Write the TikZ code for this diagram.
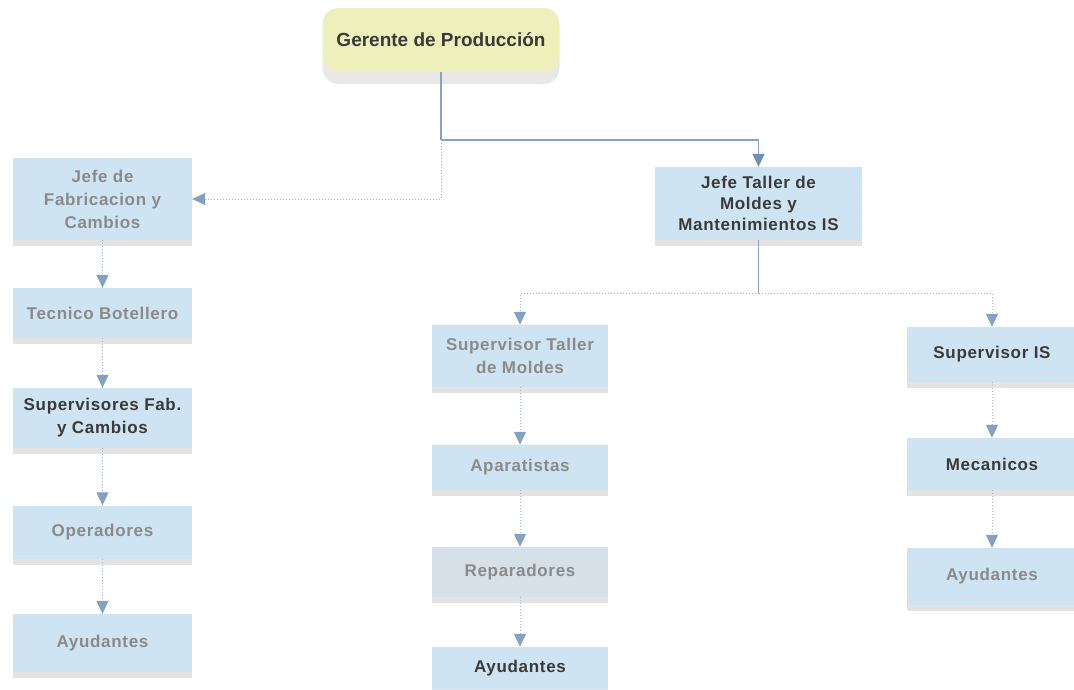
\documentclass[tikz,border=0pt]{standalone}
\usepackage{fontspec}
\setmainfont{Liberation Sans}
\newfontfamily\boxfont[LetterSpace=4]{Liberation Sans}
\usetikzlibrary{arrows.meta,shadows}
\definecolor{boxfill}{HTML}{CFE4F2}
\definecolor{boxgray}{HTML}{D6E0E8}
\definecolor{gerfill}{HTML}{EEF0BC}
\definecolor{linec}{HTML}{86A2C6}
\definecolor{tipc}{HTML}{6F8FB8}
\definecolor{darktext}{HTML}{3A3A3A}
\definecolor{graytext}{HTML}{8A8A8A}
\tikzset{
  orgbox/.style={fill=boxfill, draw=none, align=center, inner sep=0pt,
    font=\boxfont\fontsize{17}{23}\selectfont\bfseries,
    drop shadow={opacity=0.22, shadow xshift=0pt, shadow yshift=-6pt, fill=gray}},
  dk/.style={text=darktext},
  lt/.style={text=graytext},
  conn/.style={draw=linec, line width=1.2pt, -{Triangle[width=12pt,length=13pt,fill=tipc,color=tipc]}},
  faint/.style={draw=linec!75, line width=1pt, dotted, -{Triangle[width=12pt,length=13pt,fill=tipc!85,color=tipc!85]}},
  plain/.style={draw=linec, line width=1.2pt},
}
\begin{document}
\begin{tikzpicture}[x=1pt,y=-1pt]
\useasboundingbox (0,0) rectangle (1074,689);
% top
\node[fill=gerfill, rounded corners=16pt, minimum width=237pt, minimum height=64pt,
  inner sep=0pt, font=\fontsize{19}{22}\selectfont\bfseries, text=darktext,
  drop shadow={opacity=0.18, shadow xshift=0pt, shadow yshift=-12pt, fill=gray}]
  (ger) at (441,40) {Gerente de Producción};
% left column
\node[orgbox, lt, minimum width=179pt, minimum height=82pt] (jfab) at (102.5,199) {Jefe de\\Fabricacion y\\Cambios};
\node[orgbox, lt, minimum width=179pt, minimum height=50pt] (tec) at (102.5,313) {Tecnico Botellero};
\node[orgbox, dk, minimum width=179pt, minimum height=60pt] (supf) at (102.5,418) {Supervisores Fab.\\y Cambios};
\node[orgbox, lt, minimum width=179pt, minimum height=53pt] (ope) at (102.5,532) {Operadores};
\node[orgbox, lt, minimum width=179pt, minimum height=58pt] (ayl) at (102.5,643) {Ayudantes};
% middle
\node[orgbox, dk, minimum width=207pt, minimum height=73pt, font=\boxfont\fontsize{17}{21}\selectfont\bfseries] (jtal) at (758.5,203.5) {Jefe Taller de\\Moldes y\\Mantenimientos IS};
\node[orgbox, lt, minimum width=176pt, minimum height=62pt] (supt) at (520,356) {Supervisor Taller\\de Moldes};
\node[orgbox, lt, minimum width=176pt, minimum height=45pt] (apa) at (520,467.5) {Aparatistas};
\node[orgbox, lt, fill=boxgray, minimum width=176pt, minimum height=50pt] (rep) at (520,572) {Reparadores};
\node[orgbox, dk, minimum width=176pt, minimum height=42pt] (aym) at (520,668) {Ayudantes};
% right
\node[orgbox, dk, minimum width=170pt, minimum height=55pt] (supis) at (992,354.5) {Supervisor IS};
\node[orgbox, dk, minimum width=170pt, minimum height=52pt] (mec) at (992,464) {Mecanicos};
\node[orgbox, lt, minimum width=170pt, minimum height=57pt] (ayr) at (992,576.5) {Ayudantes};
% junctions
\coordinate (j1) at (441,140);
\coordinate (j2) at (758.5,293);
% connectors
\draw[plain] (ger.south) -- (j1);
\draw[conn] (j1) -| (jtal.north);
\draw[faint] (j1) |- (jfab.east);
\draw[plain] (jtal.south) -- (j2);
\draw[faint] (j2) -| (supt.north);
\draw[faint] (j2) -| (supis.north);
\draw[faint] (jfab) -- (tec);
\draw[faint] (tec) -- (supf);
\draw[faint] (supf) -- (ope);
\draw[faint] (ope) -- (ayl);
\draw[faint] (supt) -- (apa);
\draw[faint] (apa) -- (rep);
\draw[faint] (rep) -- (aym);
\draw[faint] (supis) -- (mec);
\draw[faint] (mec) -- (ayr);
\end{tikzpicture}
\end{document}
